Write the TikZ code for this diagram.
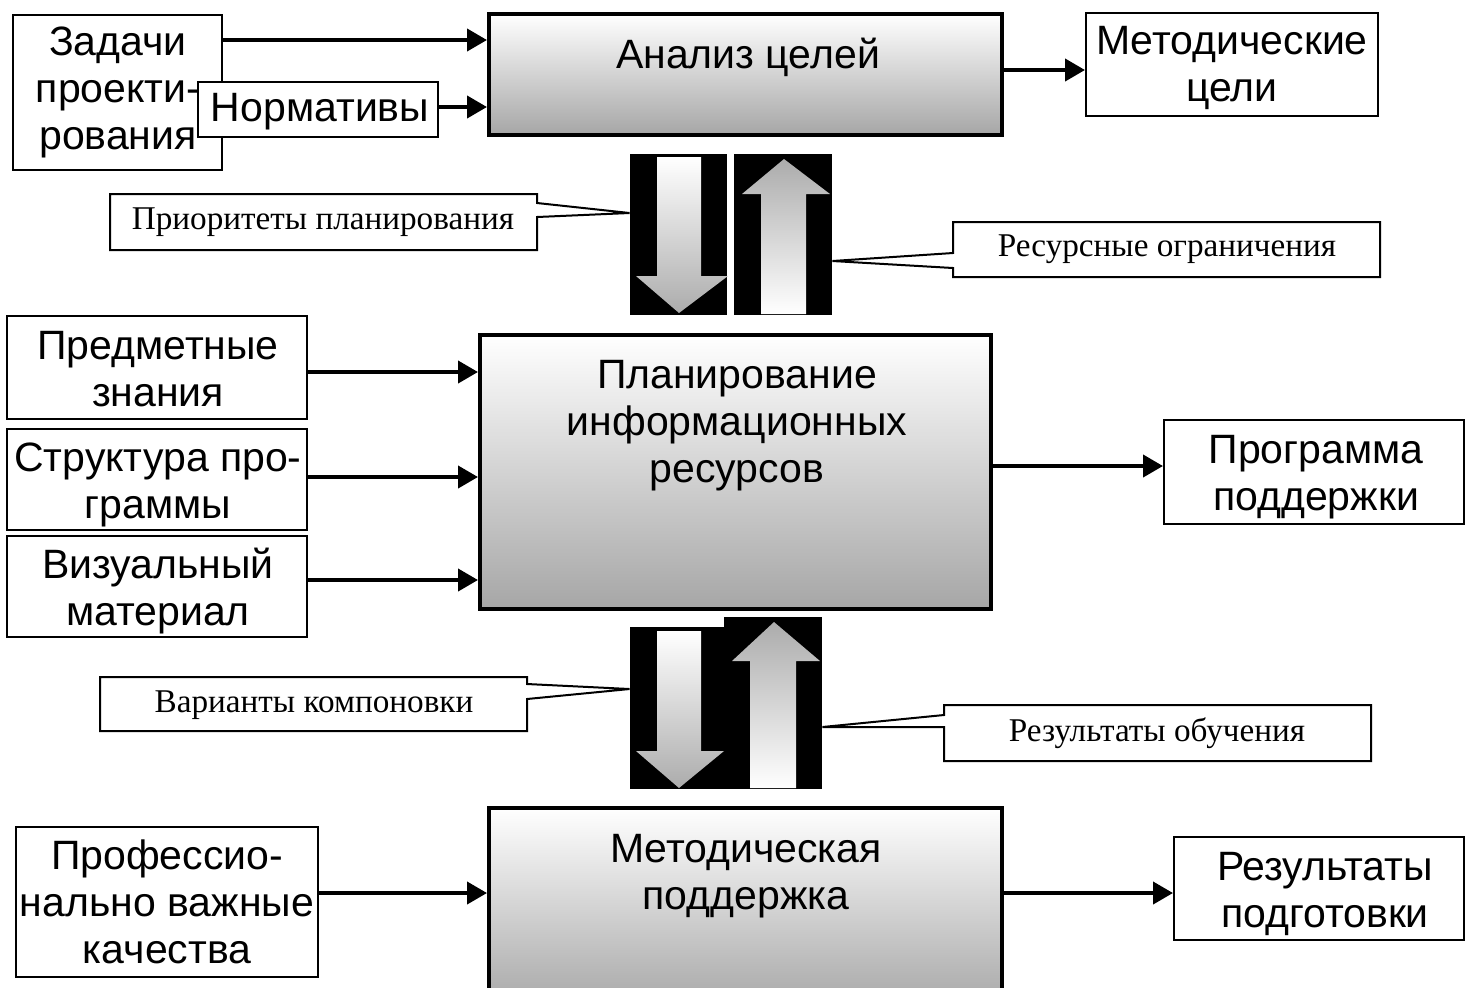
\documentclass[tikz,border=0pt]{standalone}
\usepackage{fontspec}
\setmainfont{Liberation Sans}
\newfontfamily\callfont{Liberation Serif}
\usetikzlibrary{fit,arrows.meta,calc}
\definecolor{shadegray}{RGB}{166,166,166}
\definecolor{arrgray}{RGB}{172,172,172}
\begin{document}
\begin{tikzpicture}[x=0.5pt,y=-0.5pt,
  txt/.style={font=\fontsize{20.5}{23.5}\selectfont},
  box/.style={draw=black, line width=1pt, fill=white, inner sep=0pt},
  mainbox/.style={draw=black, line width=2pt, top color=white, bottom color=shadegray, inner sep=0pt},
  lbl/.style={align=center, inner sep=0pt, txt},
  arr/.style={line width=2pt, -{Triangle[length=10pt,width=11pt]}},
  call/.style={draw=black, line width=1pt, fill=white, line join=miter},
  calltext/.style={inner sep=0pt, font=\callfont\fontsize{16.6}{19}\selectfont},
  blk/.style={fill=black, draw=none, inner sep=0pt},
  dnarrow/.style={top color=white, bottom color=arrgray, draw=none},
  uparrow/.style={top color=arrgray, bottom color=white, draw=none}]
\useasboundingbox (0,0) rectangle (1466,987);
\clip (0,0) rectangle (1466,987);
\fill[white] (0,0) rectangle (1466,987);

% ---- top row ----
\node[box, fit={(13,15) (222,170)}] (zad) {};
\node[lbl] (zadt) at (118,92) {Задачи\\проекти-\\рования};
\node[box, fit={(198,82) (438,137)}] (norm) {};
\node[lbl] (normt) at (320,112) {Нормативы};
\node[mainbox, fit={(489,14) (1002,135)}] (anal) {};
\node[lbl] (analt) at (748,57) {Анализ целей};
\node[box, fit={(1086,13) (1378,116)}] (mcel) {};
\node[lbl] (mcelt) at (1232,68) {Методические\\цели};

\draw[arr] (zad.east |- 0,40) -- (anal.west |- 0,40);
\draw[arr] (norm.east |- 0,107) -- (anal.west |- 0,107);
\draw[arr] (anal.east |- 0,70) -- (mcel.west |- 0,70);

% ---- upper arrow blocks ----
\node[blk, fit={(630,154) (727,315)}] (blkA) {};
\node[blk, fit={(734,154) (832,315)}] (blkB) {};
\shade[dnarrow] (657,157) -- (701,157) -- (701,276) -- (728,276) -- (679,313) -- (636,276) -- (657,276) -- cycle;
\shade[uparrow] (784,159) -- (830,194) -- (806,194) -- (806,314) -- (761,314) -- (761,194) -- (742,194) -- cycle;

% callouts (upper)
\draw[call] (110,194) -- (537,194) -- (537,203) -- (blkA.west |- 0,213) -- (537,217) -- (537,250) -- (110,250) -- cycle;
\node[calltext] (prio) at (323,222) {Приоритеты планирования};
\draw[call] (953,222) -- (1380,222) -- (1380,277) -- (953,277) -- (953,268) -- (blkB.east |- 0,261) -- (953,253) -- cycle;
\node[calltext] (resu) at (1167,249) {Ресурсные ограничения};

% ---- middle row ----
\node[box, fit={(7,316) (307,419)}] (pred) {};
\node[lbl] (predt) at (158,369) {Предметные\\знания};
\node[box, fit={(7,429) (307,530)}] (strk) {};
\node[lbl] (strkt) at (158,485) {Структура про-\\граммы};
\node[box, fit={(7,536) (307,637)}] (vizu) {};
\node[lbl] (vizut) at (158,591) {Визуальный\\материал};
\node[mainbox, fit={(480,335) (991,609)}] (plan) {};
\node[lbl] (plant) at (737,426) {Планирование\\информационных\\ресурсов};
\node[box, fit={(1164,420) (1464,524)}] (prog) {};
\node[lbl] (progt) at (1316,477) {Программа\\поддержки};

\draw[arr] (pred.east |- 0,372) -- (plan.west |- 0,372);
\draw[arr] (strk.east |- 0,477) -- (plan.west |- 0,477);
\draw[arr] (vizu.east |- 0,580) -- (plan.west |- 0,580);
\draw[arr] (plan.east |- 0,466) -- (prog.west |- 0,466);

% ---- lower arrow blocks ----
\node[blk, fit={(630,627) (725,789)}] (blkC) {};
\node[blk, fit={(724,617) (822,789)}] (blkD) {};
\shade[dnarrow] (657,631) -- (701,631) -- (701,751) -- (724,751) -- (679,788) -- (636,751) -- (657,751) -- cycle;
\shade[uparrow] (774,622) -- (820,661) -- (796,661) -- (796,788) -- (750,788) -- (750,661) -- (732,661) -- cycle;

% callouts (lower)
\draw[call] (100,677) -- (527,677) -- (527,684) -- (blkC.west |- 0,689) -- (527,699) -- (527,731) -- (100,731) -- cycle;
\node[calltext] (vari) at (314,705) {Варианты компоновки};
\draw[call] (944,705) -- (1371,705) -- (1371,761) -- (944,761) -- (944,727) -- (blkD.east |- 0,727) -- (944,715) -- cycle;
\node[calltext] (rezo) at (1157,733) {Результаты обучения};

% ---- bottom row ----
\node[box, fit={(16,827) (318,977)}] (prof) {};
\node[lbl] (proft) at (167,902) {Профессио-\\нально важные\\качества};
\node[mainbox, fit={(489,808) (1002,1010)}] (metp) {};
\node[lbl] (metpt) at (746,876) {Методическая\\поддержка};
\node[box, fit={(1174,837) (1464,940)}] (rezp) {};
\node[lbl] (rezpt) at (1325,894) {Результаты\\подготовки};

\draw[arr] (prof.east |- 0,893) -- (metp.west |- 0,893);
\draw[arr] (metp.east |- 0,893) -- (rezp.west |- 0,893);
\end{tikzpicture}
\end{document}
